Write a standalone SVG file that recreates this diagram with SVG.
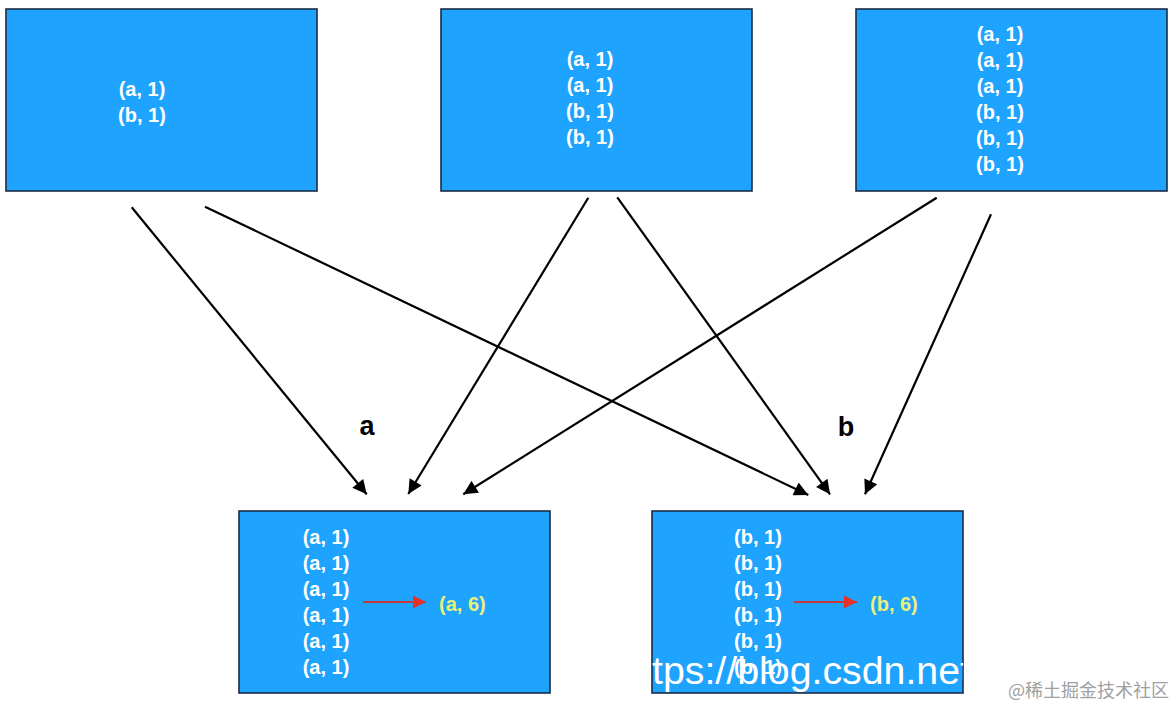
<svg xmlns="http://www.w3.org/2000/svg" width="1175" height="705" viewBox="0 0 1175 705">
<defs>
<style>
.box{fill:#1ea3fe;stroke:#1c2b45;stroke-width:1.6}
.t{font-family:"Liberation Sans",Arial,sans-serif;font-weight:bold;font-size:20px;fill:#ffffff;text-anchor:middle}
.y{font-family:"Liberation Sans",Arial,sans-serif;font-weight:bold;font-size:20px;fill:#eaf07c}
.lbl{font-family:"Liberation Sans",Arial,sans-serif;font-weight:bold;font-size:27px;fill:#000000;text-anchor:middle}
.conn{stroke:#000000;stroke-width:2.2;fill:none;marker-end:url(#ah)}
.red{stroke:#c8373a;stroke-width:2;fill:none;marker-end:url(#rh)}
</style>
<marker id="ah" viewBox="0 0 10 10" refX="10" refY="5" markerWidth="7" markerHeight="6.4" markerUnits="strokeWidth" orient="auto">
<path d="M0,0 L10,5 L0,10 Z" fill="#000000"/>
</marker>
<marker id="rh" viewBox="0 0 10 10" refX="10" refY="5" markerWidth="7" markerHeight="6.5" markerUnits="strokeWidth" orient="auto">
<path d="M0,0 L10,5 L0,10 Z" fill="#e8302a"/>
</marker>
<clipPath id="clipB"><rect x="652" y="511" width="311" height="182"/></clipPath>
</defs>
<rect width="1175" height="705" fill="#ffffff"/>

<g id="connectors">
<line class="conn" x1="131.7" y1="207.3" x2="366.7" y2="494.3"/>
<line class="conn" x1="205" y1="206.7" x2="808.3" y2="495"/>
<line class="conn" x1="588.3" y1="197.7" x2="408.3" y2="494"/>
<line class="conn" x1="617.3" y1="197.3" x2="830" y2="494.3"/>
<line class="conn" x1="936.7" y1="197.7" x2="463.3" y2="494.3"/>
<line class="conn" x1="991" y1="214.3" x2="865" y2="494.3"/>
</g>

<g id="labels">
<text class="lbl" x="367" y="435">a</text>
<text class="lbl" x="846" y="436">b</text>
</g>

<g id="node-src1">
<rect class="box" x="6" y="9" width="311" height="182"/>
<text class="t" x="142" y="96">(a, 1)</text>
<text class="t" x="142" y="122">(b, 1)</text>
</g>

<g id="node-src2">
<rect class="box" x="441" y="9" width="311" height="182"/>
<text class="t" x="590" y="66">(a, 1)</text>
<text class="t" x="590" y="92">(a, 1)</text>
<text class="t" x="590" y="118">(b, 1)</text>
<text class="t" x="590" y="144">(b, 1)</text>
</g>

<g id="node-src3">
<rect class="box" x="856" y="9" width="311" height="182"/>
<text class="t" x="1000" y="41">(a, 1)</text>
<text class="t" x="1000" y="67">(a, 1)</text>
<text class="t" x="1000" y="93">(a, 1)</text>
<text class="t" x="1000" y="119">(b, 1)</text>
<text class="t" x="1000" y="145">(b, 1)</text>
<text class="t" x="1000" y="171">(b, 1)</text>
</g>

<g id="node-reduce-a">
<rect class="box" x="239" y="511" width="311" height="182"/>
<text class="t" x="326" y="544">(a, 1)</text>
<text class="t" x="326" y="570">(a, 1)</text>
<text class="t" x="326" y="596">(a, 1)</text>
<text class="t" x="326" y="622">(a, 1)</text>
<text class="t" x="326" y="648">(a, 1)</text>
<text class="t" x="326" y="674">(a, 1)</text>
<line class="red" x1="363" y1="602" x2="426" y2="602"/>
<text class="y" x="439" y="611">(a, 6)</text>
</g>

<g id="node-reduce-b">
<rect class="box" x="652" y="511" width="311" height="182"/>
<text class="t" x="758" y="544">(b, 1)</text>
<text class="t" x="758" y="570">(b, 1)</text>
<text class="t" x="758" y="596">(b, 1)</text>
<text class="t" x="758" y="622">(b, 1)</text>
<text class="t" x="758" y="648">(b, 1)</text>
<text class="t" x="758" y="674">(b, 1)</text>
<line class="red" x1="794" y1="602" x2="857" y2="602"/>
<text class="y" x="870" y="611">(b, 6)</text>
</g>

<g id="watermarks">
<text x="652" y="684" clip-path="url(#clipB)" font-family="Liberation Sans, Arial, sans-serif" font-size="39" textLength="319" lengthAdjust="spacingAndGlyphs" fill="#ffffff">tps://blog.csdn.net</text>
<text x="1008" y="697" font-family="Noto Sans CJK SC, sans-serif" font-size="18" fill="#a0a0a0">@稀土掘金技术社区</text>
</g>
</svg>
